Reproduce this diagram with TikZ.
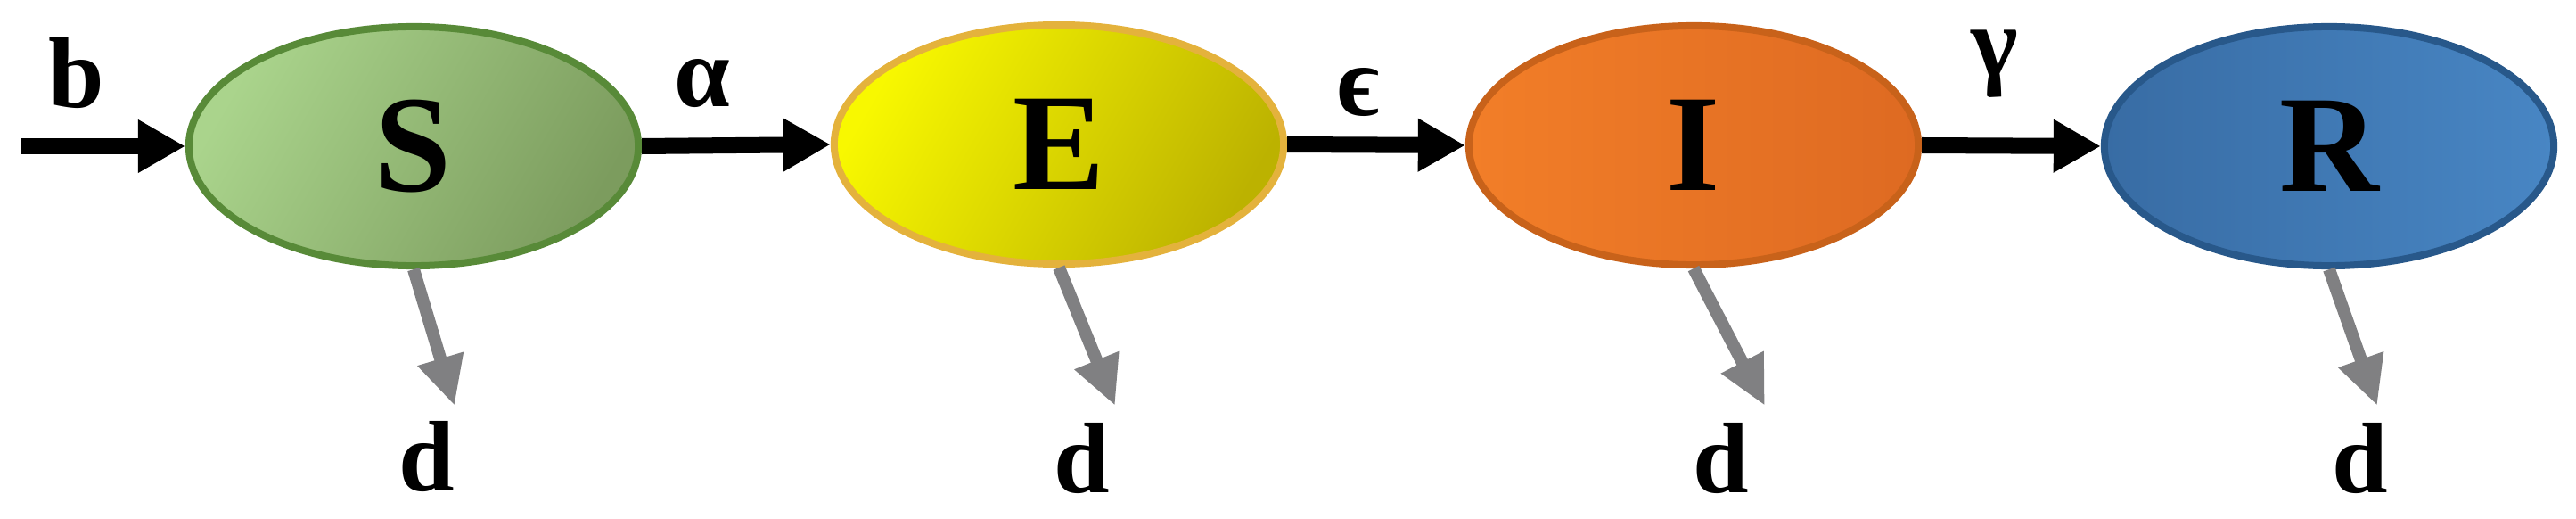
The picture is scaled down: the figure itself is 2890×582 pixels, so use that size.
\documentclass[tikz,border=0pt]{standalone}
\usepackage{fontspec}
\setmainfont{Liberation Serif}
\usetikzlibrary{shapes.geometric,arrows.meta}
\definecolor{sL}{RGB}{170,212,140}
\definecolor{sR}{RGB}{124,156,94}
\definecolor{sB}{RGB}{88,138,56}
\definecolor{eL}{RGB}{248,248,0}
\definecolor{eR}{RGB}{188,178,0}
\definecolor{eB}{RGB}{228,178,60}
\definecolor{iL}{RGB}{242,126,40}
\definecolor{iR}{RGB}{222,106,34}
\definecolor{iB}{RGB}{200,98,26}
\definecolor{rL}{RGB}{56,108,164}
\definecolor{rR}{RGB}{72,134,196}
\definecolor{rB}{RGB}{40,88,138}
\definecolor{deathgray}{RGB}{128,128,130}
\begin{document}
\begin{tikzpicture}[x=0.01cm,y=-0.01cm,
  comp/.style={ellipse, draw, line width=0.08cm, minimum width=5.04cm,
    minimum height=2.68cm, inner sep=0pt,
    font=\fontsize{44}{48}\selectfont\bfseries},
  lbl/.style={font=\fontsize{32}{36}\selectfont\bfseries, inner sep=0pt},
  flow/.style={draw=black, line width=0.18cm, -{Triangle[length=0.53cm,width=0.56cm]}},
  death/.style={draw=deathgray, line width=0.14cm, -{Triangle[length=0.55cm,width=0.50cm]}}]
\useasboundingbox (0,0) rectangle (2890,582);

\node[comp, draw=sB, top color=sL, bottom color=sR, shading angle=60] (S) at (464,164) {S};
\node[comp, draw=eB, top color=eL, bottom color=eR, shading angle=60] (E) at (1188,162) {E};
\node[comp, draw=iB, left color=iL, right color=iR] (I) at (1900,163) {I};
\node[comp, draw=rB, left color=rL, right color=rR] (R) at (2613,164) {R};

\coordinate (in) at (24,164);
\draw[flow] (in) -- (S.west);
\draw[flow] (S.east) -- (E.west);
\draw[flow] (E.east) -- (I.west);
\draw[flow] (I.east) -- (R.west);

\node[lbl] (lb) at (86,82) {b};
\node[lbl] (la) at (788,94) {α};
\node[lbl] (le) at (1524,104) {ϵ};
\node[lbl] (lg) at (2238,72) {γ};

\coordinate (tS) at (510,455);
\coordinate (tE) at (1251,455);
\coordinate (tI) at (1980,455);
\coordinate (tR) at (2667,455);
\draw[death] (S.south) -- (tS);
\draw[death] (E.south) -- (tE);
\draw[death] (I.south) -- (tI);
\draw[death] (R.south) -- (tR);

\node[lbl] (dS) at (479,512) {d};
\node[lbl] (dE) at (1214,514) {d};
\node[lbl] (dI) at (1931,514) {d};
\node[lbl] (dR) at (2648,514) {d};
\end{tikzpicture}
\end{document}
